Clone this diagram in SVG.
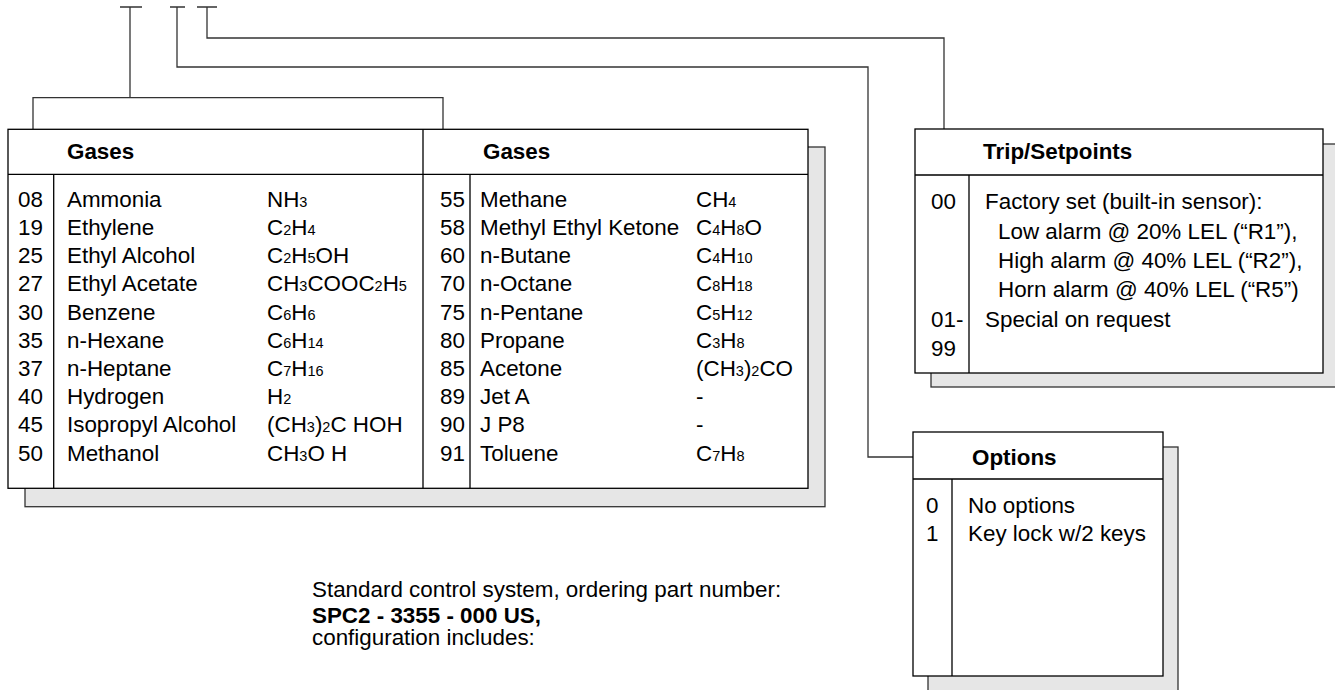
<svg xmlns="http://www.w3.org/2000/svg" width="1335" height="690" viewBox="0 0 1335 690">
<style>
text{font-family:"Liberation Sans",Arial,sans-serif;font-size:22.4px;fill:#000}
.b{font-weight:bold}
.s{font-size:14.5px}
.box{fill:#fff;stroke:#000;stroke-width:1.3}
.sh{fill:#e6e6e6;stroke:#333;stroke-width:1.3}
.ln{fill:none;stroke:#000;stroke-width:1.3}
.cn{fill:none;stroke:#333;stroke-width:1.3}
</style>
<rect width="1335" height="690" fill="#fff"/>
<g id="connectors">
<path class="cn" d="M120,7H142M130,7V97.7M33,129V97.7H443V129"/>
<path class="cn" d="M170,7H185M177,7V67H868V457H913"/>
<path class="cn" d="M197,7H217M207,7V38H944V129"/>
</g>
<g id="gases">
<rect class="sh" x="25" y="147" width="800" height="359.7"/>
<rect class="box" x="8" y="129.3" width="800" height="359"/>
<path class="ln" d="M8,174.3H808M423,129.3V488.3M53.7,174.3V488.3M470,174.3V488.3"/>
<text class="b" x="67" y="159">Gases</text>
<text class="b" x="483" y="159">Gases</text>
<g>
<text x="18" y="206.7">08</text><text x="67" y="206.7">Ammonia</text><text x="267" y="206.7">NH<tspan class="s">3</tspan></text>
<text x="18" y="234.9">19</text><text x="67" y="234.9">Ethylene</text><text x="267" y="234.9">C<tspan class="s">2</tspan>H<tspan class="s">4</tspan></text>
<text x="18" y="263.1">25</text><text x="67" y="263.1">Ethyl Alcohol</text><text x="267" y="263.1">C<tspan class="s">2</tspan>H<tspan class="s">5</tspan>OH</text>
<text x="18" y="291.3">27</text><text x="67" y="291.3">Ethyl Acetate</text><text x="267" y="291.3">CH<tspan class="s">3</tspan>COOC<tspan class="s">2</tspan>H<tspan class="s">5</tspan></text>
<text x="18" y="319.5">30</text><text x="67" y="319.5">Benzene</text><text x="267" y="319.5">C<tspan class="s">6</tspan>H<tspan class="s">6</tspan></text>
<text x="18" y="347.7">35</text><text x="67" y="347.7">n-Hexane</text><text x="267" y="347.7">C<tspan class="s">6</tspan>H<tspan class="s">14</tspan></text>
<text x="18" y="375.9">37</text><text x="67" y="375.9">n-Heptane</text><text x="267" y="375.9">C<tspan class="s">7</tspan>H<tspan class="s">16</tspan></text>
<text x="18" y="404.1">40</text><text x="67" y="404.1">Hydrogen</text><text x="267" y="404.1">H<tspan class="s">2</tspan></text>
<text x="18" y="432.3">45</text><text x="67" y="432.3">Isopropyl Alcohol</text><text x="267" y="432.3">(CH<tspan class="s">3</tspan>)<tspan class="s">2</tspan>C HOH</text>
<text x="18" y="460.5">50</text><text x="67" y="460.5">Methanol</text><text x="267" y="460.5">CH<tspan class="s">3</tspan>O H</text>
</g>
<g>
<text x="440" y="206.7">55</text><text x="480" y="206.7">Methane</text><text x="696" y="206.7">CH<tspan class="s">4</tspan></text>
<text x="440" y="234.9">58</text><text x="480" y="234.9">Methyl Ethyl Ketone</text><text x="696" y="234.9">C<tspan class="s">4</tspan>H<tspan class="s">8</tspan>O</text>
<text x="440" y="263.1">60</text><text x="480" y="263.1">n-Butane</text><text x="696" y="263.1">C<tspan class="s">4</tspan>H<tspan class="s">10</tspan></text>
<text x="440" y="291.3">70</text><text x="480" y="291.3">n-Octane</text><text x="696" y="291.3">C<tspan class="s">8</tspan>H<tspan class="s">18</tspan></text>
<text x="440" y="319.5">75</text><text x="480" y="319.5">n-Pentane</text><text x="696" y="319.5">C<tspan class="s">5</tspan>H<tspan class="s">12</tspan></text>
<text x="440" y="347.7">80</text><text x="480" y="347.7">Propane</text><text x="696" y="347.7">C<tspan class="s">3</tspan>H<tspan class="s">8</tspan></text>
<text x="440" y="375.9">85</text><text x="480" y="375.9">Acetone</text><text x="696" y="375.9">(CH<tspan class="s">3</tspan>)<tspan class="s">2</tspan>CO</text>
<text x="440" y="404.1">89</text><text x="480" y="404.1">Jet A</text><text x="696" y="404.1">-</text>
<text x="440" y="432.3">90</text><text x="480" y="432.3">J P8</text><text x="696" y="432.3">-</text>
<text x="440" y="460.5">91</text><text x="480" y="460.5">Toluene</text><text x="696" y="460.5">C<tspan class="s">7</tspan>H<tspan class="s">8</tspan></text>
</g>
</g>
<g id="trip">
<rect class="sh" x="931" y="144" width="408" height="243"/>
<rect class="box" x="915" y="129" width="408" height="244"/>
<path class="ln" d="M915,175H1323M969,175V373"/>
<text class="b" x="983" y="159">Trip/Setpoints</text>
<text x="931" y="209.3">00</text>
<text x="985" y="209.3">Factory set (built-in sensor):</text>
<text x="998" y="238.5">Low alarm @ 20% LEL (“R1”),</text>
<text x="998" y="267.7">High alarm @ 40% LEL (“R2”),</text>
<text x="998" y="296.9">Horn alarm @ 40% LEL (“R5”)</text>
<text x="931" y="326.7">01-</text>
<text x="985" y="326.7">Special on request</text>
<text x="931" y="356">99</text>
</g>
<g id="options">
<rect class="sh" x="928" y="447" width="250" height="250"/>
<rect class="box" x="913" y="432" width="250" height="244"/>
<path class="ln" d="M913,479H1163M952,479V676"/>
<text class="b" x="972" y="465">Options</text>
<text x="926" y="512.7">0</text><text x="968" y="512.7">No options</text>
<text x="926" y="540.5">1</text><text x="968" y="540.5">Key lock w/2 keys</text>
</g>
<g id="note">
<text x="312" y="597">Standard control system, ordering part number:</text>
<text class="b" x="312" y="622.5">SPC2 - 3355 - 000 US,</text>
<text x="312" y="645">configuration includes:</text>
</g>
</svg>
